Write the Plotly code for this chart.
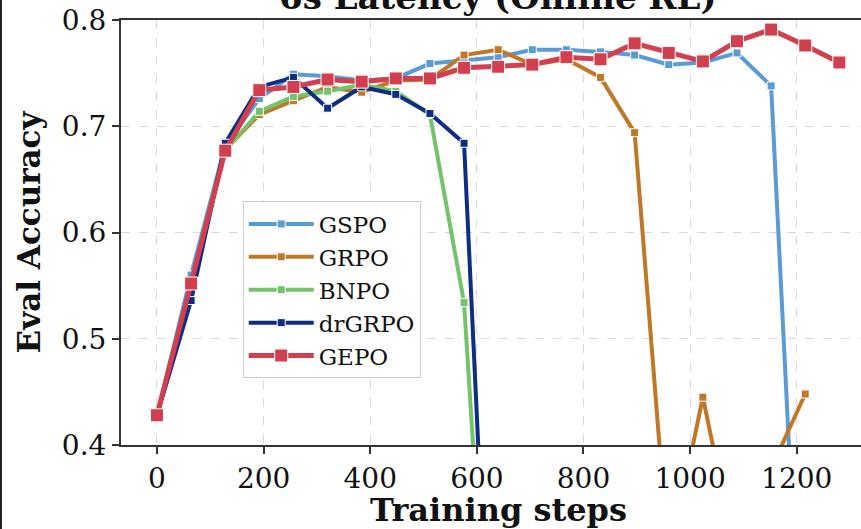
import plotly.graph_objects as go

# Training steps at which evaluation was run
steps = [0, 64, 128, 192, 256, 320, 384, 448, 512, 576, 640,
         704, 768, 832, 896, 960, 1024, 1088, 1152, 1216, 1280]

# Eval accuracy per method (None = no evaluation recorded)
gspo = [0.428, 0.560, 0.682, 0.726, 0.749, 0.747, 0.743, 0.745, 0.759, 0.762, 0.765,
        0.772, 0.772, 0.770, 0.767, 0.758, 0.760, 0.769, 0.738, 0.090, None]
grpo = [0.428, 0.546, 0.678, 0.711, 0.724, 0.737, 0.732, 0.743, 0.744, 0.767, 0.772,
        0.758, 0.763, 0.746, 0.694, 0.290, 0.445, 0.290, 0.378, 0.448, None]
bnpo = [0.428, 0.550, 0.677, 0.714, 0.728, 0.733, 0.739, 0.733, 0.711, 0.534, 0.026,
        None, None, None, None, None, None, None, None, None, None]
drgrpo = [0.428, 0.536, 0.684, 0.737, 0.746, 0.717, 0.737, 0.730, 0.712, 0.684, 0.0,
          None, None, None, None, None, None, None, None, None, None]
gepo = [0.428, 0.552, 0.677, 0.734, 0.737, 0.744, 0.742, 0.745, 0.745, 0.755, 0.756,
        0.758, 0.765, 0.763, 0.778, 0.769, 0.761, 0.780, 0.791, 0.776, 0.760]

x_ticks = [0, 200, 400, 600, 800, 1000, 1200]
y_ticks = [0.4, 0.5, 0.6, 0.7, 0.8]

series = [
    ("GSPO", gspo, "#5b9bd5", 4, 8),
    ("GRPO", grpo, "#be7828", 4, 8),
    ("BNPO", bnpo, "#74c26c", 4, 8),
    ("drGRPO", drgrpo, "#0f2e82", 4, 8),
    ("GEPO", gepo, "#d2404f", 5, 13),
]

FONT = "DejaVu Serif"
X_RANGE = [-67.5, 1320.6]
AXES_CENTER = 640  # middle of the full axes box (it extends past the right edge)

fig = go.Figure()
for name, vals, color, lw, ms in series:
    fig.add_trace(go.Scatter(
        x=steps, y=vals, name=name, mode="lines+markers",
        legendgroup=name,
        line=dict(color=color, width=lw),
        marker=dict(symbol="square", size=ms, color=color,
                    line=dict(color="white", width=1)),
    ))

axis_common = dict(
    showgrid=True, gridcolor="#d9d9d9", griddash="dash", gridwidth=1,
    showline=True, linecolor="#333333", linewidth=2,
    ticks="outside", ticklen=7, tickwidth=2, tickcolor="#333333",
    tickfont=dict(family=FONT, size=28, color="#111111"),
    zeroline=False,
)

fig.update_layout(
    width=861, height=529,
    margin=dict(l=121, r=0, t=20, b=84),
    paper_bgcolor="white", plot_bgcolor="white",
    showlegend=True,
    legend=dict(
        x=0.1645, y=0.573, xanchor="left", yanchor="top",
        bgcolor="rgba(255,255,255,0.9)", bordercolor="#cccccc", borderwidth=1,
        font=dict(family=FONT, size=23, color="#111111"),
        itemwidth=65, tracegroupgap=0, traceorder="grouped",
    ),
    xaxis=dict(range=X_RANGE, tickvals=x_ticks, mirror=True, **axis_common),
    yaxis=dict(
        range=[0.4, 0.8], tickvals=y_ticks, tickformat=".1f",
        title=dict(text="<b>Eval Accuracy</b>", standoff=12,
                   font=dict(family=FONT, size=31, color="#111111")),
        **axis_common,
    ),
)

# x-axis label, centred under the full axes box
fig.add_annotation(
    text="<b>Training steps</b>", xref="x", yref="paper",
    x=AXES_CENTER, y=0, yanchor="bottom", yshift=-86, showarrow=False,
    font=dict(family=FONT, size=32, color="#111111"),
)

# Title sits partly above the figure's top edge
fig.add_annotation(
    text="<b>6s Latency (Online RL)</b>", xref="x", yref="paper",
    x=AXES_CENTER, y=1.0, yanchor="bottom", yshift=1, showarrow=False,
    font=dict(family=FONT, size=34, color="#111111"),
)

# Figure border on the left edge
fig.add_shape(type="line", xref="paper", yref="paper",
              x0=-0.1622, x1=-0.1622, y0=-0.3, y1=1.1,
              line=dict(color="#222222", width=2))

fig.write_html("out.html")
